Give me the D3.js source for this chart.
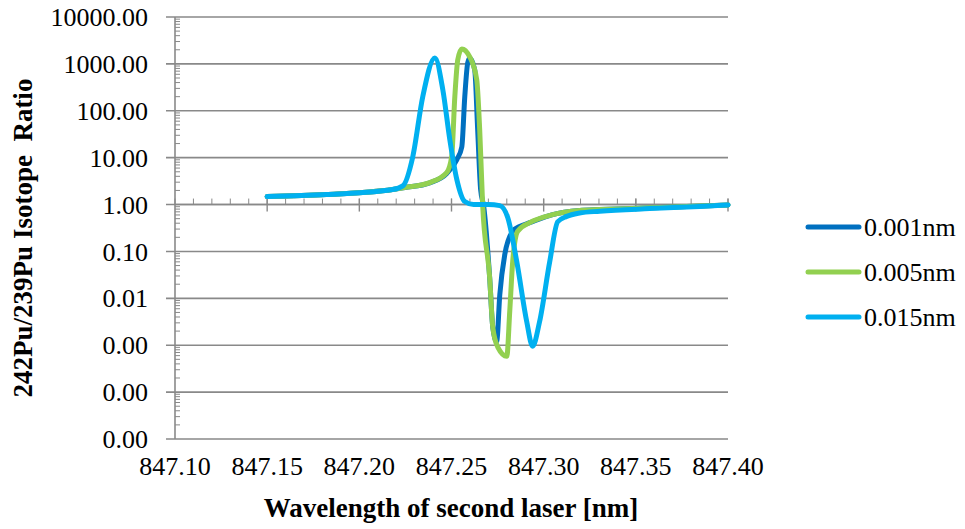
<!DOCTYPE html>
<html>
<head>
<meta charset="utf-8">
<script src="https://cdn.jsdelivr.net/npm/d3@7"></script>
<style>
  html, body { margin: 0; padding: 0; background: #fff; }
  svg { display: block; }
</style>
</head>
<body>
<svg id="chart" width="965" height="529" font-family="Liberation Serif"></svg>
<script>
// ---- data ----
const seriesNames = ["0.001nm", "0.005nm", "0.015nm"];
const seriesColors = ["#0070C0", "#92D050", "#00B0F0"];

const wl001 = [847.150, 847.182, 847.218, 847.2247, 847.2382, 847.2474, 847.2529, 847.2556, 847.2572, 847.2588, 847.2599, 847.2626, 847.2642, 847.2658, 847.2675, 847.2707, 847.2724, 847.2745, 847.2762, 847.2789, 847.2832, 847.2870, 847.2924, 847.3049, 847.3195, 847.3304, 847.3575, 847.3846, 847.400];
const r001  = [1.48, 1.63, 2.09, 2.3, 2.9, 4.6, 9.1, 17, 199, 1060, 1340, 740, 39, 2.1, 0.9, 0.028, 0.0024, 0.0012, 0.012, 0.086, 0.27, 0.34, 0.41, 0.61, 0.745, 0.78, 0.85, 0.93, 0.98];

const wl005 = [847.150, 847.182, 847.218, 847.2247, 847.2382, 847.2474, 847.2501, 847.2518, 847.2534, 847.2556, 847.2599, 847.2637, 847.2653, 847.2669, 847.2707, 847.2724, 847.2751, 847.2800, 847.2816, 847.2832, 847.2859, 847.2924, 847.3049, 847.3195, 847.3304, 847.3575, 847.3846, 847.400];
const r005  = [1.48, 1.63, 2.09, 2.3, 2.94, 4.8, 10.5, 199, 1230, 2090, 1410, 457, 39, 1.0, 0.028, 0.0024, 0.00091, 0.00058, 0.0053, 0.061, 0.27, 0.41, 0.61, 0.745, 0.78, 0.85, 0.93, 0.98];

const wl015 = [847.150, 847.182, 847.218, 847.2236, 847.2290, 847.2344, 847.2410, 847.2453, 847.2491, 847.2529, 847.2572, 847.2620, 847.2700, 847.2762, 847.2805, 847.2854, 847.2908, 847.2940, 847.2978, 847.3033, 847.3076, 847.3125, 847.3195, 847.3304, 847.3575, 847.3846, 847.400];
const r015  = [1.48, 1.63, 2.09, 2.5, 10.5, 199, 1340, 280, 24, 3.4, 1.16, 1.0, 1.0, 0.95, 0.53, 0.061, 0.0032, 0.00095, 0.0032, 0.061, 0.43, 0.56, 0.66, 0.72, 0.82, 0.91, 0.98];

const xTicks = [847.10, 847.15, 847.20, 847.25, 847.30, 847.35, 847.40];
const yTicks = [0.00001, 0.0001, 0.001, 0.01, 0.1, 1, 10, 100, 1000, 10000];
const xTitle = "Wavelength of second laser [nm]";
const yTitle = "242Pu/239Pu Isotope\u00a0\u00a0Ratio";

// ---- layout ----
const FONT = "Liberation Serif";
const svg = d3.select("#chart");
const pL = 175, pR = 728, pT = 17, pB = 439;
const x = d3.scaleLinear().domain([847.10, 847.40]).range([pL, pR]);
const y = d3.scaleLog().domain([0.00001, 10000]).range([pB, pT]);
const grey = "#898989";

// gridlines (with outward major ticks)
svg.append("g").selectAll("line").data(yTicks).join("line")
  .attr("x1", pL - 9).attr("x2", pR)
  .attr("y1", d => y(d)).attr("y2", d => y(d))
  .attr("stroke", grey).attr("stroke-width", 1.6);

// y axis line + minor ticks
svg.append("line").attr("x1", pL).attr("x2", pL).attr("y1", pT).attr("y2", pB)
  .attr("stroke", grey).attr("stroke-width", 1.6);
const yMinor = y.ticks().filter(d => Math.abs(Math.log10(d) - Math.round(Math.log10(d))) > 1e-9);
svg.append("g").selectAll("line").data(yMinor).join("line")
  .attr("x1", pL).attr("x2", pL + 5)
  .attr("y1", d => y(d)).attr("y2", d => y(d))
  .attr("stroke", grey).attr("stroke-width", 1);

// y tick labels
svg.append("g").selectAll("text").data(yTicks).join("text")
  .attr("x", 148).attr("y", d => y(d)).attr("dy", "0.35em")
  .attr("text-anchor", "end").attr("font-family", FONT).attr("font-size", 26).attr("fill", "#000")
  .text(d => d3.format(".2f")(d));

// x axis crossing at y=1
const y1 = y(1);
svg.append("line").attr("x1", pL).attr("x2", pR).attr("y1", y1).attr("y2", y1)
  .attr("stroke", grey).attr("stroke-width", 1.6);
const xMinor = d3.range(0, 31).map(i => 847.10 + i * 0.01);
svg.append("g").selectAll("line").data(xMinor).join("line")
  .attr("x1", d => x(d)).attr("x2", d => x(d))
  .attr("y1", y1 - 6).attr("y2", y1)
  .attr("stroke", grey).attr("stroke-width", 1);
svg.append("g").selectAll("line").data(xTicks.slice(1)).join("line")
  .attr("x1", d => x(d)).attr("x2", d => x(d))
  .attr("y1", y1 - 6).attr("y2", y1 + 7)
  .attr("stroke", grey).attr("stroke-width", 1.4);

// x tick labels (low position)
svg.append("g").selectAll("text").data(xTicks).join("text")
  .attr("x", d => x(d)).attr("y", 475)
  .attr("text-anchor", "middle").attr("font-family", FONT).attr("font-size", 26).attr("fill", "#000")
  .text(d => d3.format(".2f")(d));

// series
const line = d3.line().x(d => x(d[0])).y(d => y(d[1])).curve(d3.curveMonotoneX);
const allSeries = [[wl001, r001], [wl005, r005], [wl015, r015]];
allSeries.forEach((s, i) => {
  const pts = s[0].map((w, j) => [w, s[1][j]]);
  svg.append("path").datum(pts).attr("d", line)
    .attr("fill", "none").attr("stroke", seriesColors[i])
    .attr("stroke-width", 5).attr("stroke-linejoin", "round").attr("stroke-linecap", "round");
});

// legend
const legendY = [227, 272, 317];
seriesNames.forEach((n, i) => {
  svg.append("line").attr("x1", 808).attr("x2", 859)
    .attr("y1", legendY[i]).attr("y2", legendY[i])
    .attr("stroke", seriesColors[i]).attr("stroke-width", 5).attr("stroke-linecap", "round");
  svg.append("text").attr("x", 864).attr("y", legendY[i]).attr("dy", "0.35em")
    .attr("font-family", FONT).attr("font-size", 26).attr("fill", "#000").text(n);
});

// axis titles
svg.append("text").attr("x", 451).attr("y", 517).attr("text-anchor", "middle")
  .attr("font-family", FONT).attr("font-size", 27).attr("font-weight", "bold").attr("fill", "#000").text(xTitle);
svg.append("text").attr("transform", "translate(32,238) rotate(-90)")
  .attr("text-anchor", "middle").attr("font-family", FONT).attr("font-size", 27).attr("font-weight", "bold").attr("fill", "#000").text(yTitle);
</script>
</body>
</html>
